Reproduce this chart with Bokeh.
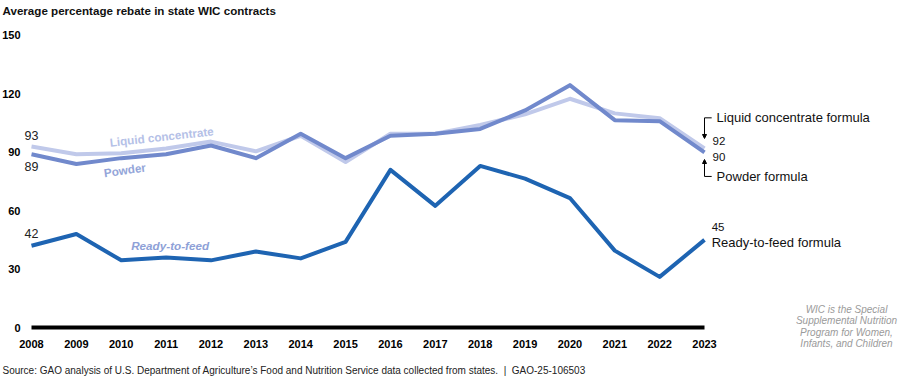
from bokeh.plotting import figure
from bokeh.models import Range1d, Label, Arrow, NormalHead, FixedTicker
from bokeh.core.properties import value
from bokeh.embed import file_html
from bokeh.resources import INLINE
import math

# ---- data ----
years = list(range(2008, 2024))
ready_to_feed = [42, 48, 34.5, 36, 34.5, 39, 35.5, 44, 81, 62.5, 83, 76.5, 66.5, 39.5, 26, 45]
powder = [89, 84, 87, 89, 93.5, 87, 99.5, 87, 98.5, 99.5, 102, 111.5, 124.5, 106.5, 106, 90]
liquid_concentrate = [93, 89, 89.5, 92, 95.5, 90.5, 98.5, 85, 99.5, 99.5, 104, 109.5, 117.5, 110, 107.5, 92]
y_ticks = [0, 30, 60, 90, 120, 150]

title_text = "Average percentage rebate in state WIC contracts"
source_text = ("Source: GAO analysis of U.S. Department of Agriculture\u2019s Food and Nutrition "
               "Service data collected from states.\u00a0\u00a0|\u00a0\u00a0GAO-25-106503")
note_lines = ["WIC is the Special", "Supplemental Nutrition", "Program for Women,", "Infants, and Children"]

FONT = "Liberation Sans"
C_READY = "#1e64b2"
C_POWDER = "#7189cc"
C_LIQUID = "#c0c9ea"

W, H = 900, 377
px_per_year = 44.867
x_start = 2008 - 31 / px_per_year
x_end = x_start + W / px_per_year
px_per_unit = 1.94667
y_start = -(H - 327) / px_per_unit
y_end = y_start + H / px_per_unit

p = figure(width=W, height=H, output_backend="svg", toolbar_location=None,
           x_range=Range1d(x_start, x_end), y_range=Range1d(y_start, y_end),
           min_border_left=0, min_border_right=0, min_border_top=0, min_border_bottom=0,
           title=None)
p.outline_line_color = None
p.grid.visible = False
p.background_fill_color = "white"
p.border_fill_color = "white"

for ax in (p.xaxis[0], p.yaxis[0]):
    ax.axis_line_color = None
    ax.major_tick_line_color = None
    ax.minor_tick_line_color = None
    ax.major_tick_out = 0
    ax.major_tick_in = 0
    ax.major_label_text_font = FONT
    ax.major_label_text_font_style = "bold"
    ax.major_label_text_font_size = "11px"
    ax.major_label_text_color = "#000000"
p.xaxis.ticker = FixedTicker(ticks=years)
p.xaxis.fixed_location = 0
p.xaxis.major_label_standoff = 12
p.yaxis.ticker = FixedTicker(ticks=y_ticks)
p.yaxis.fixed_location = x_start + 22 / px_per_year
p.yaxis.major_label_standoff = 2

# baseline
p.line(x=[years[0], years[-1]], y=[0, 0], line_color="black", line_width=4, line_cap="butt")

# series
p.line(years, liquid_concentrate, line_color=C_LIQUID, line_width=4, line_join="round")
p.line(years, powder, line_color=C_POWDER, line_width=4, line_join="round")
p.line(years, ready_to_feed, line_color=C_READY, line_width=4, line_join="round")

# start values
p.text(x=[years[0]] * 3, y=[liquid_concentrate[0] + 5.6, powder[0] - 6.3, ready_to_feed[0] + 6.1],
       text=[str(liquid_concentrate[0]), str(powder[0]), str(ready_to_feed[0])],
       text_font=value(FONT), text_font_size="12.5px", text_color="#222222",
       text_align="center", text_baseline="middle")

# inline series names
p.text(x=[2010.9], y=[98.1], text=["Liquid concentrate"], angle=[math.radians(6.2)],
       text_font=value(FONT), text_font_size="11.7px", text_font_style="bold",
       text_color="#b5c1e7", text_align="center", text_baseline="middle")
p.text(x=[2010.08], y=[81.0], text=["Powder"], angle=[math.radians(8)],
       text_font=value(FONT), text_font_size="11.7px", text_font_style="bold",
       text_color="#93a5d9", text_align="center", text_baseline="middle")
p.text(x=[2011.09], y=[42.1], text=["Ready-to-feed"],
       text_font=value(FONT), text_font_size="11.7px", text_font_style="bold italic",
       text_color="#8ea1d7", text_align="center", text_baseline="middle")

# end values and labels
xl = years[-1]
p.text(x=[xl + 0.18, xl + 0.18, xl + 0.16],
       y=[liquid_concentrate[-1] + 3.7, powder[-1] - 2.5, ready_to_feed[-1] + 6.5],
       text=[str(liquid_concentrate[-1]), str(powder[-1]), str(ready_to_feed[-1])],
       text_font=value(FONT), text_font_size="11.5px", text_color="#111111",
       text_align="left", text_baseline="middle")
p.text(x=[xl + 0.27, xl + 0.27, xl + 0.16],
       y=[liquid_concentrate[-1] + 15.7, powder[-1] - 12.4, ready_to_feed[-1] - 1.2],
       text=["Liquid concentrate formula", "Powder formula", "Ready-to-feed formula"],
       text_font=value(FONT), text_font_size="13px", text_color="#111111",
       text_align="left", text_baseline="middle")

# bracket arrows
top_y = liquid_concentrate[-1] + 15.7
bot_y = powder[-1] - 12.4
p.line(x=[xl + 0.16, xl], y=[top_y, top_y], line_color="black", line_width=1)
p.line(x=[xl + 0.16, xl], y=[bot_y, bot_y], line_color="black", line_width=1)
p.add_layout(Arrow(end=NormalHead(size=4, fill_color="black", line_color="black"),
                   x_start=xl, y_start=top_y, x_end=xl, y_end=liquid_concentrate[-1] + 5.1,
                   line_color="black", line_width=1))
p.add_layout(Arrow(end=NormalHead(size=4, fill_color="black", line_color="black"),
                   x_start=xl, y_start=bot_y, x_end=xl, y_end=powder[-1] - 3.7,
                   line_color="black", line_width=1))

# title, source, note (screen units relative to frame, which fills the figure)
p.add_layout(Label(x=2, y=H - 10, x_units="screen", y_units="screen", text=title_text,
                   text_font=FONT, text_font_size="11.6px", text_font_style="bold",
                   text_color="#111111", text_align="left", text_baseline="middle"))
p.add_layout(Label(x=2, y=H - 370, x_units="screen", y_units="screen", text=source_text,
                   text_font=FONT, text_font_size="10px",
                   text_color="#222222", text_align="left", text_baseline="middle"))
for i, line in enumerate(note_lines):
    p.add_layout(Label(x=846, y=H - 309 - i * 11.4, x_units="screen", y_units="screen", text=line,
                       text_font=FONT, text_font_size="10px", text_font_style="italic",
                       text_color="#9a9a9a", text_align="center", text_baseline="middle"))

open("out.html", "w").write(file_html(p, INLINE))
